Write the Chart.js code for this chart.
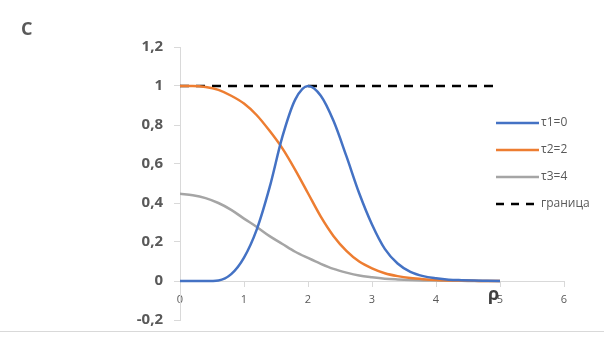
<!DOCTYPE html>
<html lang="ru">
<head>
  <meta charset="UTF-8" />
  <title>C(ρ)</title>
  <script src="https://cdn.jsdelivr.net/npm/chart.js"></script>
  <style>
    body { margin: 0; background: #fff; }
    #box { position: relative; width: 604px; height: 337px; }
  </style>
</head>
<body>
  <div id="box"><canvas id="grafico"></canvas></div>

<script>
// dados
const rho = [0, 0.2, 0.4, 0.6, 0.8, 1.0, 1.2, 1.4, 1.6, 1.8, 2.0, 2.2, 2.4,
             2.6, 2.8, 3.0, 3.2, 3.4, 3.6, 3.8, 4.0, 4.2, 4.4, 4.6, 4.8, 5.0];
const tau1 = [0, 0, 0, 0.003, 0.035, 0.12, 0.265, 0.48, 0.74, 0.93, 1.0, 0.95, 0.82,
              0.64, 0.45, 0.29, 0.165, 0.09, 0.047, 0.025, 0.014, 0.007, 0.004, 0.002, 0.001, 0];
const tau2 = [1.0, 1.0, 0.995, 0.98, 0.95, 0.91, 0.85, 0.77, 0.68, 0.57, 0.45, 0.33, 0.23,
              0.155, 0.10, 0.065, 0.04, 0.025, 0.015, 0.009, 0.005, 0.003, 0.002, 0.001, 0, 0];
const tau3 = [0.447, 0.44, 0.425, 0.40, 0.365, 0.32, 0.277, 0.23, 0.19, 0.15, 0.118, 0.088, 0.062,
              0.043, 0.028, 0.019, 0.012, 0.008, 0.005, 0.003, 0.002, 0.001, 0.001, 0, 0, 0];
const limiteX = [0, 5];
const limiteY = [1, 1];
const nomes = ['τ1=0', 'τ2=2', 'τ3=4', 'граница'];
const yTicks = [-0.2, 0, 0.2, 0.4, 0.6, 0.8, 1, 1.2];
const xTicks = [0, 1, 2, 3, 4, 5, 6];

const fonte = "'Open Sans', 'Noto Sans', sans-serif";
const cinza = '#595959';

function pontos(xs, ys) {
  let out = [];
  for (let i = 0; i < xs.length; i++) out.push({ x: xs[i], y: ys[i] });
  return out;
}

function serie(label, xs, ys, cor, dash) {
  return {
    label: label,
    data: pontos(xs, ys),
    borderColor: cor,
    backgroundColor: cor,
    borderWidth: 2.5,
    borderDash: dash || [],
    pointRadius: 0,
    fill: false,
    cubicInterpolationMode: 'monotone'
  };
}

const dados = {
  datasets: [
    serie(nomes[0], rho, tau1, '#4472C4'),
    serie(nomes[1], rho, tau2, '#ED7D31'),
    serie(nomes[2], rho, tau3, '#A5A5A5'),
    serie(nomes[3], limiteX, limiteY, '#000000', [9, 7])
  ]
};

// legenda, título e linha de baixo
const extras = {
  id: 'extras',
  afterDraw(chart) {
    const ctx = chart.ctx;
    ctx.save();
    // linha de baixo
    ctx.strokeStyle = '#d9d9d9';
    ctx.lineWidth = 1;
    ctx.beginPath();
    ctx.moveTo(0, 331.5);
    ctx.lineTo(604, 331.5);
    ctx.stroke();

    ctx.fillStyle = cinza;
    ctx.font = 'bold 18px ' + fonte;
    ctx.textBaseline = 'middle';
    ctx.textAlign = 'left';
    ctx.fillText('C', 21, 30);

    ctx.fillStyle = '#404040';
    ctx.font = 'bold 18px ' + fonte;
    ctx.fillText('ρ', 488, 295);

    // legenda
    const linhas = [123, 150, 177, 204];
    ctx.font = '12px ' + fonte;
    chart.data.datasets.forEach(function (ds, i) {
      const y = linhas[i];
      ctx.strokeStyle = ds.borderColor;
      ctx.lineWidth = 2.5;
      ctx.setLineDash(ds.borderDash.length ? [8, 7] : []);
      ctx.beginPath();
      ctx.moveTo(496, y);
      ctx.lineTo(539, y);
      ctx.stroke();
      ctx.setLineDash([]);
      ctx.fillStyle = cinza;
      ctx.fillText(ds.label, 541, y);
    });
    ctx.restore();
  }
};

const config = {
  type: 'line',
  data: dados,
  options: {
    responsive: true,
    maintainAspectRatio: false,
    animation: false,
    layout: { padding: { top: 47, right: 40, bottom: 17, left: 0 } },
    plugins: { legend: { display: false }, tooltip: { enabled: false } },
    scales: {
      x: {
        type: 'linear',
        position: { y: 0 },
        min: xTicks[0],
        max: xTicks[xTicks.length - 1],
        afterBuildTicks: function (s) { s.ticks = xTicks.map(v => ({ value: v })); },
        ticks: {
          color: cinza,
          font: { family: fonte, size: 11 },
          padding: 7,
          maxRotation: 0,
          callback: v => String(v)
        },
        grid: { display: true, drawOnChartArea: false, drawTicks: true, tickLength: 5, color: '#d9d9d9' },
        border: { display: true, color: '#d9d9d9' }
      },
      y: {
        min: yTicks[0],
        max: yTicks[yTicks.length - 1],
        afterBuildTicks: function (s) { s.ticks = yTicks.map(v => ({ value: v })); },
        afterFit: function (s) { s.width = 180; s.paddingTop = 0; s.paddingBottom = 0; },
        ticks: {
          color: cinza,
          font: { family: fonte, size: 15, weight: 'bold' },
          padding: 11,
          callback: v => String(Math.round(v * 10) / 10).replace('.', ',')
        },
        grid: { display: true, drawOnChartArea: false, drawTicks: true, tickLength: 6, color: '#d9d9d9' },
        border: { display: true, color: '#d9d9d9' }
      }
    }
  },
  plugins: [extras]
};

let grafico = new Chart(document.getElementById('grafico'), config);
</script>
</body>
</html>
